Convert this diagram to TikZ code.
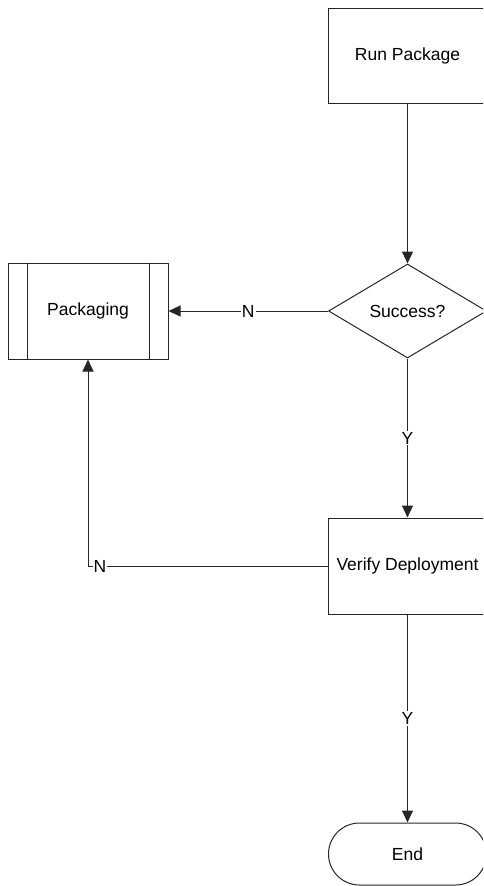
\documentclass[tikz,border=0pt]{standalone}
\usepackage{fontspec}
\setmainfont{Liberation Sans}
\usetikzlibrary{shapes.geometric,shapes.misc,arrows.meta}
\begin{document}
\begin{tikzpicture}[x=1pt,y=-1pt, font=\fontsize{17.5}{21}\selectfont,
 line/.style={draw=black!85, line width=1pt},
 proc/.style={line, rectangle, minimum width=159pt, minimum height=95pt, inner sep=0pt},
 dec/.style={line, diamond, minimum width=158pt, minimum height=94pt, inner sep=0pt},
 term/.style={line, rounded rectangle, minimum width=158pt, minimum height=62pt, inner sep=0pt},
 arr/.style={line, -{Triangle[length=12pt,width=11pt]}},
 lbl/.style={fill=white, inner sep=1pt}]
\useasboundingbox (0,0) rectangle (483,886);
\clip (0,0) rectangle (483,886);
\node[proc] (run) at (407.5,55.5) {Run Package};
\node[dec] (dec) at (407.5,311) {Success?};
\node[proc, minimum width=160pt, minimum height=96pt] (pk) at (88,311) {Packaging};
\draw[line] ([xshift=20pt]pk.north west) -- ([xshift=20pt]pk.south west);
\draw[line] ([xshift=-19pt]pk.north east) -- ([xshift=-19pt]pk.south east);
\node[proc, minimum height=96pt] (vd) at (407.5,566) {Verify Deployment};
\node[term] (end) at (407.5,854) {End};
\draw[arr] (run) -- (dec);
\draw[arr] (dec) -- node[lbl]{N} (pk);
\draw[arr] (dec) -- node[lbl]{Y} (vd);
\draw[arr] (vd.west) -| node[lbl,pos=0.475]{N} (pk.south);
\draw[arr] (vd) -- node[lbl]{Y} (end);
\end{tikzpicture}
\end{document}
